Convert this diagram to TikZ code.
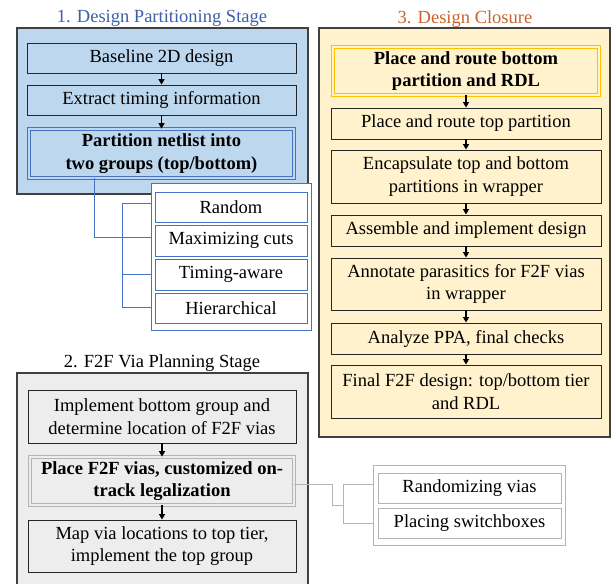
\documentclass[tikz,border=0pt]{standalone}
\usepackage{fontspec}
\setmainfont{Liberation Serif}
\usetikzlibrary{arrows.meta}
\definecolor{titleblue}{HTML}{3F5FA8}
\definecolor{titleorange}{HTML}{C8642A}
\definecolor{bluefill}{HTML}{BDD7EE}
\definecolor{blueline}{HTML}{4472C4}
\definecolor{grayfill}{HTML}{EDEDED}
\definecolor{grayline}{HTML}{B4B4B4}
\definecolor{yelfill}{HTML}{FFF2CC}
\definecolor{goldline}{HTML}{FFC000}
\definecolor{panelline}{HTML}{404040}
\newcommand{\fs}{\fontsize{18.5}{22.5}\selectfont}
\tikzset{
  ttl/.style={font=\fs, inner sep=0pt, anchor=base},
  panel/.style={draw=panelline, line width=1.2pt, inner sep=0pt},
  box/.style={draw=black!85, line width=0.9pt, inner sep=0pt, align=center, font=\fs},
  bbox/.style={box, font=\fs\bfseries},
  optbox/.style={draw=blueline, line width=0.8pt, fill=white, inner sep=0pt, align=center, font=\fs},
  gbox/.style={draw=grayline, line width=0.8pt, fill=white, inner sep=0pt, align=center, font=\fs},
  bline/.style={draw=blueline, line width=0.8pt},
  gline/.style={draw=grayline, line width=0.8pt},
  arr/.style={draw=black, line width=1.3pt, -{Triangle[length=5.5pt,width=6pt]}},
}
\begin{document}
\begin{tikzpicture}[x=1pt,y=-1pt]
\useasboundingbox (0,0) rectangle (611,584);

% ---------------- Stage 1 ----------------
\node[ttl, text=titleblue] (t1) at (162,22.5) {1. Design Partitioning Stage};
\node[panel, fill=bluefill, minimum width=291pt, minimum height=166pt] (p1) at (162.5,111) {};
\node[box, fill=bluefill, minimum width=269pt, minimum height=30pt] (a1) at (161.5,58) {Baseline 2D design};
\node[box, fill=bluefill, minimum width=269pt, minimum height=30pt] (a2) at (161.5,100) {Extract timing information};
\node[bbox, fill=bluefill, draw=blueline, line width=0.8pt, double=bluefill, double distance=2.5pt,
      minimum width=265pt, minimum height=49pt] (a3) at (161.5,153.5) {Partition netlist into\\two groups (top/bottom)};
\draw[arr] (a1) -- (a2);
\draw[arr] (a2) -- (a3);

% options
\node[draw=blueline, line width=0.8pt, fill=white, inner sep=0pt, minimum width=160pt, minimum height=147pt] (opt) at (231,256.5) {};
\node[optbox, minimum width=152pt, minimum height=30pt] (o1) at (231,207) {Random};
\node[optbox, minimum width=152pt, minimum height=31pt] (o2) at (231,240.5) {Maximizing cuts};
\node[optbox, minimum width=152pt, minimum height=31pt] (o3) at (231,274.5) {Timing-aware};
\node[optbox, minimum width=152pt, minimum height=30pt] (o4) at (231,308) {Hierarchical};

\coordinate (k1) at (94,237);
\coordinate (k2a) at (122,203);
\coordinate (k2c) at (122,274);
\coordinate (k2b) at (122,307);
\draw[bline] (a3.south -| k1) -- (k1) -- (k1 -| opt.west);
\draw[bline] (k2a -| opt.west) -- (k2a) -- (k2b) -- (k2b -| opt.west);
\draw[bline] (k2c) -- (k2c -| opt.west);

% ---------------- Stage 2 ----------------
\node[ttl, text=black] (t2) at (162,367) {2. F2F Via Planning Stage};
\node[panel, fill=grayfill, minimum width=291pt, minimum height=225pt] (p2) at (162.5,485.5) {};
\node[box, fill=grayfill, minimum width=268pt, minimum height=53pt] (c1) at (162,416.5) {Implement bottom group and\\determine location of F2F vias};
\node[bbox, fill=grayfill, draw=grayline, line width=0.8pt, double=grayfill, double distance=2.5pt,
      minimum width=264pt, minimum height=48pt] (c2) at (162,481) {Place F2F vias, customized on-\\track legalization};
\node[box, fill=grayfill, minimum width=268pt, minimum height=52pt] (c3) at (162,546) {Map via locations to top tier,\\implement the top group};
\draw[arr] (c1) -- (c2);
\draw[arr] (c2) -- (c3);

\node[draw=grayline, line width=0.8pt, fill=white, inner sep=0pt, minimum width=192pt, minimum height=80pt] (sub2) at (469,505) {};
\node[gbox, minimum width=183pt, minimum height=30pt] (r1) at (469.5,488) {Randomizing vias};
\node[gbox, minimum width=183pt, minimum height=30pt] (r2) at (469.5,523) {Placing switchboxes};

\coordinate (m1) at (332,484);
\coordinate (m2) at (332,505);
\coordinate (m3) at (343,484);
\coordinate (m4) at (343,523);
\draw[gline] (c2.east |- m1) -- (m1) -- (m2) -- (m2 -| m3);
\draw[gline] (m3 -| sub2.west) -- (m3) -- (m4) -- (m4 -| sub2.west);

% ---------------- Stage 3 ----------------
\node[ttl, text=titleorange] (t3) at (465,23) {3. Design Closure};
\node[panel, fill=yelfill, minimum width=291pt, minimum height=409pt] (p3) at (464.5,232.5) {};
\node[bbox, fill=yelfill, draw=goldline, line width=0.8pt, double=yelfill, double distance=2.5pt,
      minimum width=266pt, minimum height=48pt] (d1) at (466,71) {Place and route bottom\\partition and RDL};
\node[box, fill=yelfill, minimum width=270pt, minimum height=31pt] (d2) at (466,123.5) {Place and route top partition};
\node[box, fill=yelfill, minimum width=270pt, minimum height=53pt] (d3) at (466,176.5) {Encapsulate top and bottom\\partitions in wrapper};
\node[box, fill=yelfill, minimum width=270pt, minimum height=31pt] (d4) at (466,230.5) {Assemble and implement design};
\node[box, fill=yelfill, minimum width=270pt, minimum height=52pt] (d5) at (466,284) {Annotate parasitics for F2F vias\\in wrapper};
\node[box, fill=yelfill, minimum width=270pt, minimum height=31pt] (d6) at (466,338.5) {Analyze PPA, final checks};
\node[box, fill=yelfill, minimum width=270pt, minimum height=53pt] (d7) at (466,391.5) {Final F2F design: top/bottom tier\\and RDL};
\draw[arr] (d1) -- (d2);
\draw[arr] (d2) -- (d3);
\draw[arr] (d3) -- (d4);
\draw[arr] (d4) -- (d5);
\draw[arr] (d5) -- (d6);
\draw[arr] (d6) -- (d7);
\end{tikzpicture}
\end{document}
